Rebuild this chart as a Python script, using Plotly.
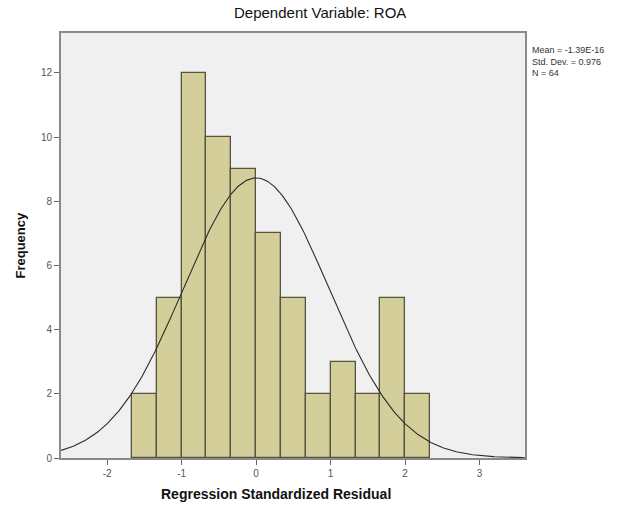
import numpy as np
import plotly.graph_objects as go

# Data
counts = [2, 5, 12, 10, 9, 7, 5, 2, 3, 2, 5, 2]
bin_start = -1.667
bin_width = 0.3335
mean_val = -1.39e-16
std_val = 0.976
n_val = 64
x_ticks = [-2, -1, 0, 1, 2, 3]
y_ticks = [0, 2, 4, 6, 8, 10, 12]
x_range = [-2.62, 3.61]
y_range = [0, 13.24]

centers = [bin_start + bin_width * (i + 0.5) for i in range(len(counts))]

xs = np.linspace(x_range[0], x_range[1], 400)
ys = n_val * bin_width / (std_val * np.sqrt(2 * np.pi)) * np.exp(-0.5 * ((xs - mean_val) / std_val) ** 2)

fig = go.Figure()
fig.add_trace(go.Bar(
    x=centers, y=counts, width=[bin_width] * len(counts),
    marker=dict(color="#D4CF9A", line=dict(color="#55553F", width=1.3)),
    hoverinfo="skip",
))
fig.add_trace(go.Scatter(
    x=xs, y=ys, mode="lines", line=dict(color="#2b2b2b", width=1.1),
    hoverinfo="skip",
))

fig.update_layout(
    width=631, height=512,
    margin=dict(l=61, r=106, t=33, b=54),
    paper_bgcolor="white", plot_bgcolor="#F0F0F0",
    showlegend=False,
    bargap=0,
    font=dict(family="Liberation Sans, Arial, sans-serif", color="#333"),
)
fig.update_xaxes(
    range=x_range, tickvals=x_ticks, ticktext=[str(v) for v in x_ticks],
    ticks="outside", ticklen=5, tickcolor="#666", tickwidth=1,
    showgrid=False, zeroline=False,
    showline=True, mirror=True, linecolor="#8a8a8a", linewidth=2,
    tickfont=dict(size=10, color="#555"),
)
fig.update_yaxes(
    range=y_range, tickvals=y_ticks, ticktext=[str(v) for v in y_ticks],
    ticks="outside", ticklen=5, tickcolor="#666", tickwidth=1,
    showgrid=False, zeroline=False,
    showline=True, mirror=True, linecolor="#8a8a8a", linewidth=2,
    tickfont=dict(size=10, color="#555"),
)

fig.add_annotation(text="Dependent Variable: ROA", xref="paper", yref="paper",
                   x=(320 - 61) / (631 - 61 - 106), y=1, yshift=21, showarrow=False,
                   font=dict(size=15, color="#111"), xanchor="center", yanchor="middle")
fig.add_annotation(text="<b>Frequency</b>", xref="paper", yref="paper",
                   x=0, xshift=-41, y=0.5, textangle=-90, showarrow=False,
                   font=dict(size=13, color="#111"), xanchor="center", yanchor="middle")
fig.add_annotation(text="<b>Regression Standardized Residual</b>", xref="paper", yref="paper",
                   x=(276 - 61) / (631 - 61 - 106), y=0, yshift=-36, showarrow=False,
                   font=dict(size=14, color="#111"), xanchor="center", yanchor="middle")
fig.add_annotation(text=f"Mean = {mean_val:.2E}"
                   + f"<br>Std. Dev. = {std_val}<br>N = {n_val}",
                   xref="paper", yref="paper", x=1, xshift=5, y=1, yshift=-10,
                   showarrow=False, align="left", xanchor="left", yanchor="top",
                   font=dict(size=9, color="#333"))

fig.write_html("out.html")
